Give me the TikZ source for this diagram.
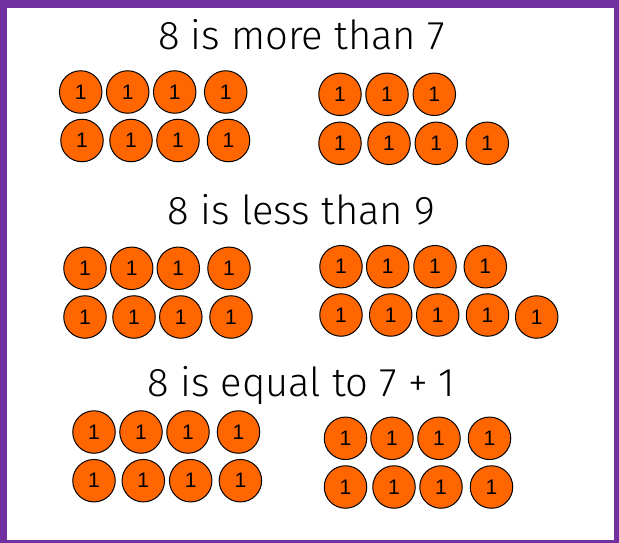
\documentclass[tikz,border=0pt]{standalone}
\usepackage{fontspec}
\setmainfont{Liberation Sans}
\newfontfamily\titlefont{Fira Sans Light}
\definecolor{bordpurple}{HTML}{7030A0}
\definecolor{cntorange}{HTML}{FF6600}
\begin{document}
\begin{tikzpicture}[x=1pt,y=-1pt,
  counter/.style={circle,draw=black,line width=1pt,fill=cntorange,minimum size=42.5pt,inner sep=0pt,font=\fontsize{21}{21}\selectfont},
  title/.style={anchor=base,inner sep=0pt,font=\titlefont\fontsize{40}{40}\selectfont}]
\fill[bordpurple] (0,0) rectangle (619,543);
\fill[white] (7,8) rectangle (614,540);
\useasboundingbox (0,0) rectangle (619,543);
% titles
\node[title] (t1) at (301.5,50) {8 is more than 7};
\node[title] (t2) at (301.5,224) {8 is less than 9};
\node[title] (t3) at (301.5,396.7) {8 is equal to 7 + 1};
% section 1 left
\foreach \x [count=\i] in {80.7,127.7,174.7,225.7} \node[counter] (a1\i) at (\x,92) {1};
\foreach \x [count=\i] in {82,131,178,228.5} \node[counter] (a2\i) at (\x,140.5) {1};
% section 1 right
\foreach \x [count=\i] in {340,387,434.3} \node[counter] (b1\i) at (\x,94.3) {1};
\foreach \x [count=\i] in {340,389,436.3,487.3} \node[counter] (b2\i) at (\x,143.3) {1};
% section 2 left
\foreach \x [count=\i] in {85,131.7,178.3,229} \node[counter] (c1\i) at (\x,268.3) {1};
\foreach \x [count=\i] in {85,134,180.8,231} \node[counter] (c2\i) at (\x,317) {1};
% section 2 right
\foreach \x [count=\i] in {341,387.7,435,485.3} \node[counter] (d1\i) at (\x,266.7) {1};
\foreach \x [count=\i] in {341,390.7,437.7,487.5} \node[counter] (d2\i) at (\x,315) {1};
\node[counter] (d25) at (536.7,317) {1};
% section 3 left
\foreach \x [count=\i] in {94,141,188,238.5} \node[counter] (e1\i) at (\x,432) {1};
\foreach \x [count=\i] in {94,143.3,190.7,240.4} \node[counter] (e2\i) at (\x,480.7) {1};
% section 3 right
\foreach \x [count=\i] in {345.5,392,439,489.5} \node[counter] (f1\i) at (\x,438.3) {1};
\foreach \x [count=\i] in {345.5,394,441,491.5} \node[counter] (f2\i) at (\x,487) {1};
\end{tikzpicture}
\end{document}
